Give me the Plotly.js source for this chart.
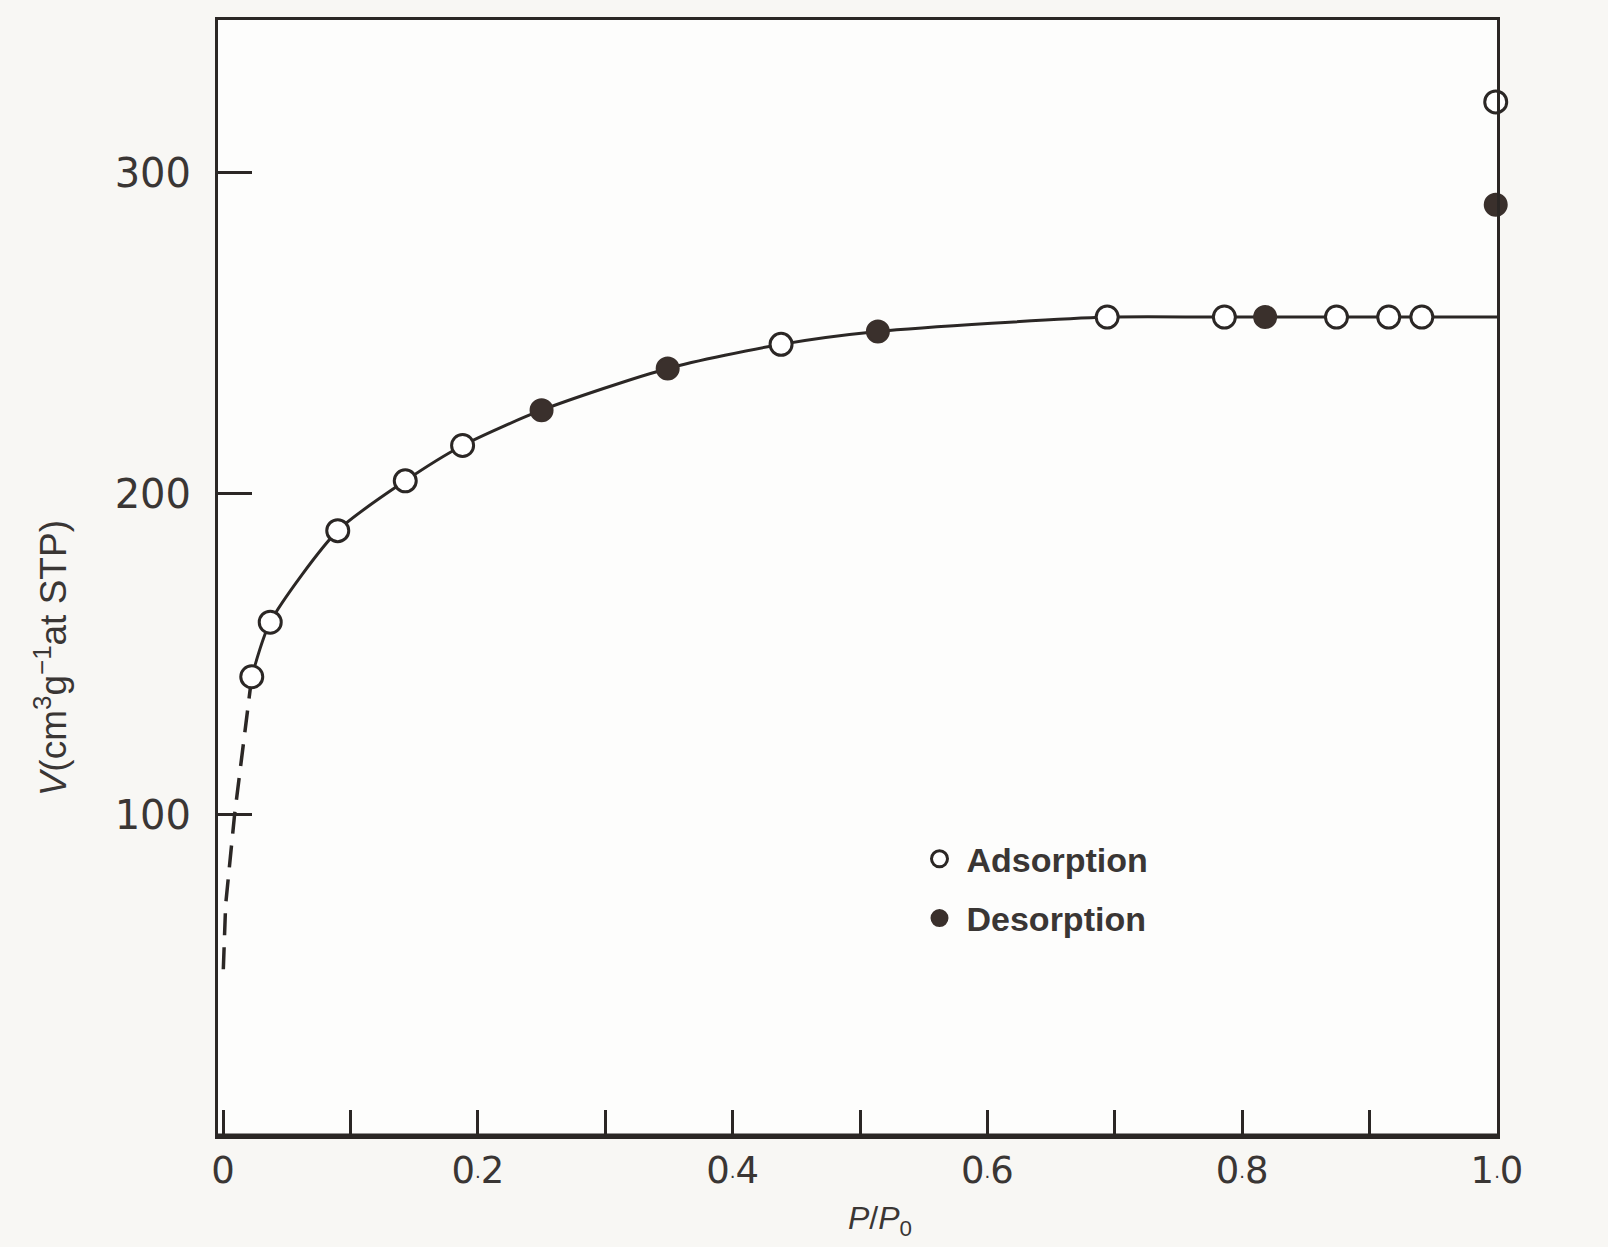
<!DOCTYPE html>
<html>
<head>
<meta charset="utf-8">
<script src="https://cdn.plot.ly/plotly-3.0.1.min.js"></script>
<style>
  html, body { margin: 0; padding: 0; background: #f8f7f4; }
  #chart { width: 1608px; height: 1247px; }
</style>
</head>
<body>
<div id="chart"></div>
<script>
// Adsorption (open circles)
const adsX = [0.0225, 0.037, 0.090, 0.143, 0.188, 0.438, 0.694, 0.786, 0.874, 0.915, 0.941, 0.999];
const adsY = [143, 160, 188.5, 204, 215, 246.5, 255, 255, 255, 255, 255, 322];
// Desorption (filled circles)
const desX = [0.250, 0.349, 0.514, 0.818, 0.999];
const desY = [226, 239, 250.5, 255, 290];
// Solid isotherm curve as drawn
const curveX = [0.0225, 0.037, 0.090, 0.143, 0.188, 0.250, 0.349, 0.438, 0.514, 0.694, 0.786, 0.818, 0.874, 0.915, 0.941, 1.0];
const curveY = [143, 160, 188.5, 204, 215, 226, 239, 246.5, 250.5, 255, 255, 255, 255, 255, 255, 255];
// Dashed extrapolation to low pressure
const dashX = [0.0225, 0.009, 0.002, 0.0];
const dashY = [143, 100, 72, 50];
// Tick labels
const dot = "<span style='font-size:18px'>·</span>";
const xTickVals = [0, 0.2, 0.4, 0.6, 0.8, 1.0];
const xTickText = ["0", "0" + dot + "2", "0" + dot + "4", "0" + dot + "6", "0" + dot + "8", "1" + dot + "0"];
const yTickVals = [100, 200, 300];
const yTickText = ["100", "200", "300"];

const ink = "#2b2725";
const fillInk = "#3a302c";

const traces = [
  {
    x: curveX, y: curveY, mode: "lines", type: "scatter",
    line: { color: ink, width: 3, shape: "spline", smoothing: 0.7 },
    showlegend: false, hoverinfo: "skip"
  },
  {
    x: dashX, y: dashY, mode: "lines", type: "scatter",
    line: { color: ink, width: 3.5, dash: "22px,12px" },
    showlegend: false, hoverinfo: "skip"
  },
  {
    x: adsX, y: adsY, mode: "markers", type: "scatter", name: "Adsorption",
    legendgroup: "a",
    marker: { symbol: "circle", size: 22, color: "#ffffff", line: { color: ink, width: 3 } },
    cliponaxis: false
  },
  {
    x: desX, y: desY, mode: "markers", type: "scatter", name: "Desorption",
    legendgroup: "d",
    marker: { symbol: "circle", size: 22, color: fillInk, line: { color: fillInk, width: 2 } },
    cliponaxis: false
  }
];

const layout = {
  width: 1608, height: 1247,
  margin: { l: 218, r: 111, t: 20, b: 111 },
  paper_bgcolor: "#f8f7f4",
  plot_bgcolor: "#fdfdfc",
  font: { family: "DejaVu Sans, sans-serif", color: "#3a3634" },
  xaxis: {
    range: [-0.004, 1.0],
    tickmode: "array", tickvals: xTickVals, ticktext: xTickText,
    ticks: "inside", ticklen: 26, tickwidth: 3, tickcolor: ink,
    minor: { ticks: "inside", tick0: 0, dtick: 0.1, ticklen: 26, tickwidth: 3, tickcolor: ink, showgrid: false },
    showline: true, linecolor: ink, linewidth: 3, mirror: true,
    showgrid: false, zeroline: false,
    tickfont: { size: 37, family: "DejaVu Sans, sans-serif", color: "#3a3634" },
    fixedrange: true
  },
  yaxis: {
    range: [0, 347.5],
    tickmode: "array", tickvals: yTickVals, ticktext: yTickText,
    ticks: "inside", ticklen: 34, tickwidth: 3, tickcolor: ink,
    ticklabelstandoff: 16,
    showline: true, linecolor: ink, linewidth: 3, mirror: true,
    showgrid: false, zeroline: false,
    tickfont: { size: 40, family: "DejaVu Sans, sans-serif", color: "#3a3634" },
    fixedrange: true
  },
  shapes: [
    { type: "line", xref: "paper", yref: "paper", x0: 0, x1: 1, y0: 0, y1: 0,
      line: { color: ink, width: 5 } }
  ],
  showlegend: true,
  legend: {
    x: 0.543, y: 0.274, xanchor: "left", yanchor: "top",
    bgcolor: "rgba(0,0,0,0)",
    tracegroupgap: 12,
    itemwidth: 44,
    font: { size: 34, family: "Liberation Sans, Arial, sans-serif", weight: "bold", color: "#3a3634" }
  },
  annotations: [
    {
      xref: "paper", yref: "paper", x: -0.1306, y: 0.428,
      xanchor: "center", yanchor: "middle", textangle: -90, showarrow: false,
      text: "<i>V</i>(cm<sup>3</sup>g<sup>−1</sup>at STP)",
      font: { size: 37, family: "Liberation Sans, Arial, sans-serif", color: "#3a3634" }
    },
    {
      xref: "paper", yref: "paper", x: 0.5176, y: -0.076,
      xanchor: "center", yanchor: "middle", showarrow: false,
      text: "<i>P</i>/<i>P</i><sub>0</sub>",
      font: { size: 32, family: "Liberation Sans, Arial, sans-serif", color: "#3a3634" }
    }
  ]
};

Plotly.newPlot("chart", traces, layout, { staticPlot: true, displayModeBar: false });
</script>
</body>
</html>
